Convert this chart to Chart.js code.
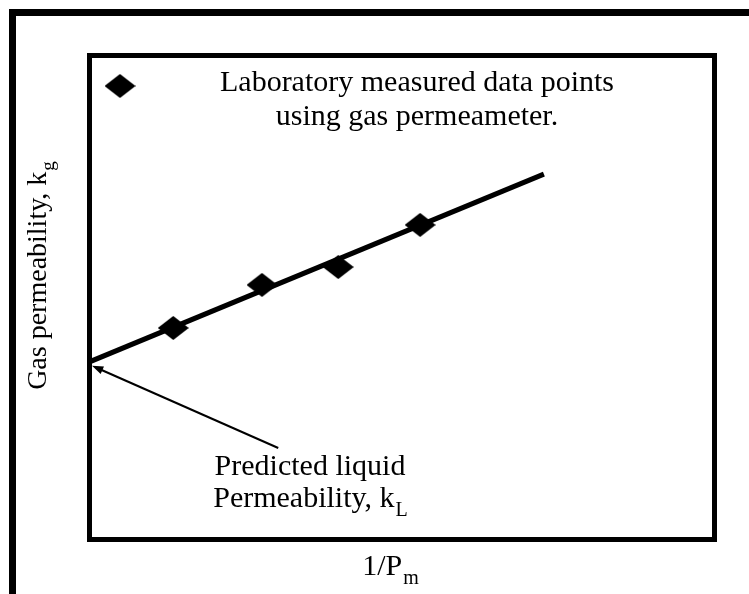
<!DOCTYPE html>
<html>
<head>
<meta charset="utf-8">
<style>
  html, body { margin: 0; padding: 0; background: #fff; }
  #wrap { width: 749px; height: 594px; }
</style>
<script src="https://cdn.jsdelivr.net/npm/chart.js@4/dist/chart.umd.min.js"></script>
</head>
<body>
<div id="wrap"><canvas id="myChart" width="749" height="594"></canvas></div>
<script>
// measured gas permeability vs reciprocal mean pressure
var invPm = [1.34, 2.76, 3.98, 5.29];
var kGas = [4.37, 5.26, 5.63, 6.50];

// straight-line fit, extrapolated back to the axis (1/Pm = 0)
var fitX = [0, 7.27];
var fitY = [3.67, 7.55];

// arrow pointing at the intercept
var arrowFrom = [3.02, 1.89];
var arrowTo = [0.04, 3.59];

var legendLines = ['Laboratory measured data points', 'using gas permeameter.'];
var noteLines = ['Predicted liquid', 'Permeability, k'];

var serif = '"Liberation Serif", "Times New Roman", serif';

// slightly flattened diamond marker
var diamond = document.createElement('canvas');
diamond.width = 31;
diamond.height = 24;
var dctx = diamond.getContext('2d');
dctx.fillStyle = '#000';
dctx.beginPath();
dctx.moveTo(15.5, 0);
dctx.lineTo(31, 12);
dctx.lineTo(15.5, 24);
dctx.lineTo(0, 12);
dctx.closePath();
dctx.fill();

// writes text followed by a lowered subscript
function textSub(ctx, text, sub, x, y, size, align) {
  var subSize = Math.round(size * 0.68);
  ctx.font = size + 'px ' + serif;
  var w1 = ctx.measureText(text).width;
  ctx.font = subSize + 'px ' + serif;
  var w2 = ctx.measureText(sub).width;
  var start = x;
  if (align === 'center') start = x - (w1 + w2) / 2;
  ctx.textAlign = 'left';
  ctx.font = size + 'px ' + serif;
  ctx.fillText(text, start, y);
  ctx.font = subSize + 'px ' + serif;
  ctx.fillText(sub, start + w1 + 1, y + size * 0.3);
}

var decorations = {
  id: 'decorations',
  afterDatasetsDraw: function(chart) {
    var ctx = chart.ctx;
    var a = chart.chartArea;
    var xs = chart.scales.x, ys = chart.scales.y;
    ctx.save();
    ctx.strokeStyle = '#000';
    ctx.fillStyle = '#000';

    // outer frame (top and left edges)
    ctx.lineWidth = 7;
    ctx.beginPath();
    ctx.moveTo(12.5, 594);
    ctx.lineTo(12.5, 12.5);
    ctx.lineTo(749, 12.5);
    ctx.stroke();

    // plot box
    ctx.lineWidth = 5;
    ctx.strokeRect(a.left, a.top, a.right - a.left, a.bottom - a.top);

    // arrow
    var x0 = xs.getPixelForValue(arrowFrom[0]), y0 = ys.getPixelForValue(arrowFrom[1]);
    var x1 = xs.getPixelForValue(arrowTo[0]), y1 = ys.getPixelForValue(arrowTo[1]);
    var ang = Math.atan2(y1 - y0, x1 - x0);
    ctx.lineWidth = 2;
    ctx.beginPath();
    ctx.moveTo(x0, y0);
    ctx.lineTo(x1 - 8 * Math.cos(ang), y1 - 8 * Math.sin(ang));
    ctx.stroke();
    ctx.beginPath();
    ctx.moveTo(x1, y1);
    ctx.lineTo(x1 - 12 * Math.cos(ang - 0.35), y1 - 12 * Math.sin(ang - 0.35));
    ctx.lineTo(x1 - 12 * Math.cos(ang + 0.35), y1 - 12 * Math.sin(ang + 0.35));
    ctx.closePath();
    ctx.fill();

    // legend
    ctx.drawImage(diamond, 120 - 15.5, 86 - 12);
    ctx.textBaseline = 'alphabetic';
    ctx.textAlign = 'center';
    ctx.font = '30px ' + serif;
    ctx.fillText(legendLines[0], 417, 91);
    ctx.fillText(legendLines[1], 417, 125);

    // intercept note
    ctx.fillText(noteLines[0], 310, 475);
    textSub(ctx, noteLines[1], 'L', 310, 507, 30, 'center');

    // axis titles
    textSub(ctx, '1/P', 'm', 390, 575, 30, 'center');
    ctx.save();
    ctx.translate(46, 276);
    ctx.rotate(-Math.PI / 2);
    textSub(ctx, 'Gas permeability, k', 'g', 0, 0, 28, 'center');
    ctx.restore();

    ctx.restore();
  }
};

var ctx = document.getElementById('myChart').getContext('2d');
var chart = new Chart(ctx, {
  type: 'scatter',
  data: {
    datasets: [{
      label: 'fit',
      type: 'line',
      data: fitX.map(function(x, i) { return { x: x, y: fitY[i] }; }),
      borderColor: '#000',
      borderWidth: 5,
      pointRadius: 0,
      fill: false,
      order: 2
    }, {
      label: 'Laboratory measured data points',
      data: invPm.map(function(x, i) { return { x: x, y: kGas[i] }; }),
      pointStyle: diamond,
      backgroundColor: '#000',
      order: 1
    }]
  },
  options: {
    responsive: false,
    animation: false,
    layout: { padding: { left: 89.5, top: 55.5, right: 34.5, bottom: 54.5 } },
    scales: {
      x: { type: 'linear', min: 0, max: 10, display: false },
      y: { type: 'linear', min: 0, max: 10, display: false }
    },
    plugins: {
      legend: { display: false },
      tooltip: { enabled: false }
    }
  },
  plugins: [decorations]
});
</script>
</body>
</html>
